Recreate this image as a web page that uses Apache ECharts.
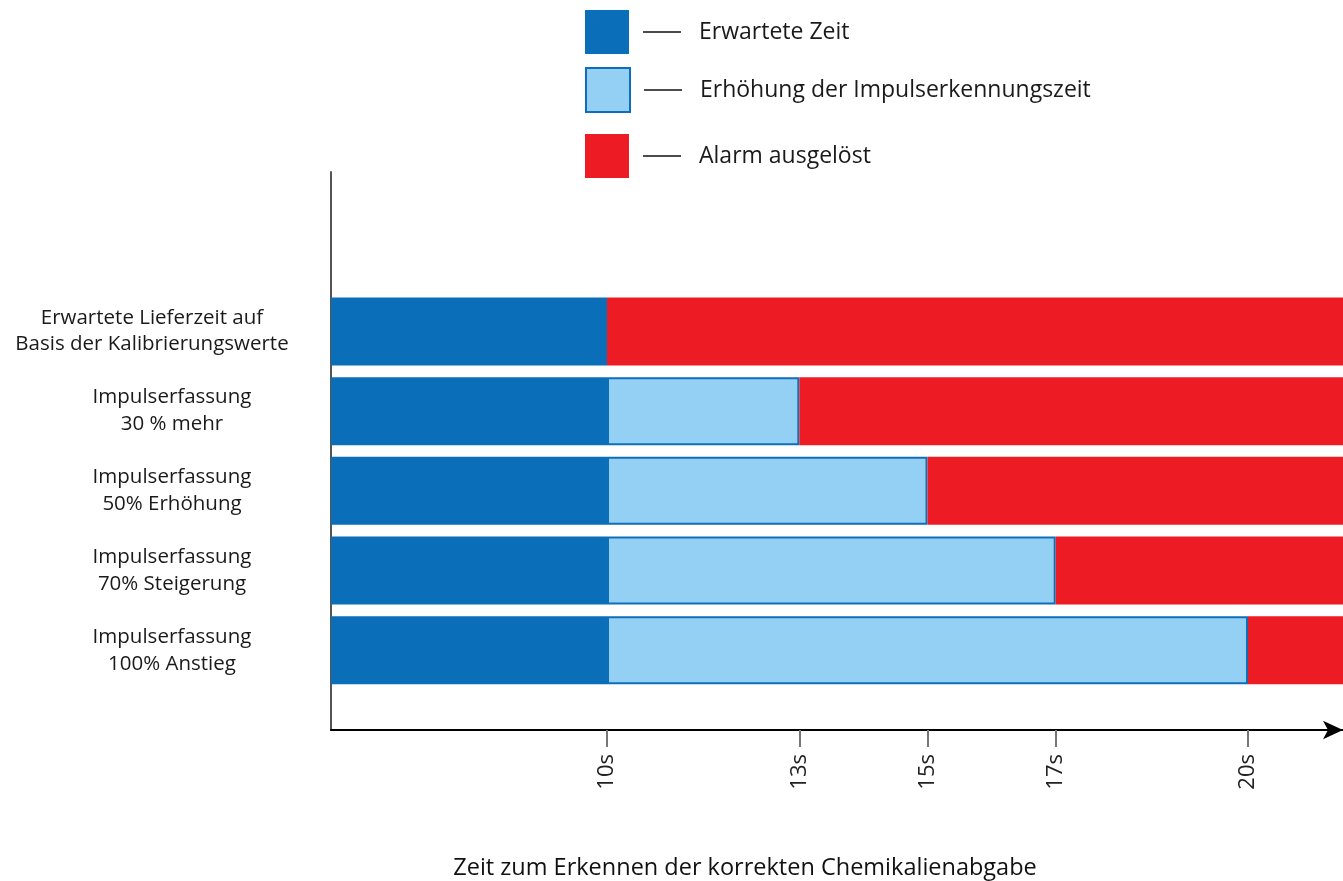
<!DOCTYPE html>
<html>
<head>
<meta charset="utf-8">
<script src="https://cdn.jsdelivr.net/npm/echarts@6/dist/echarts.min.js"></script>
<style>html,body{margin:0;padding:0;background:#fff}#c{width:1343px;height:881px}</style>
</head>
<body>
<div id="c"></div>
<script>
// Categories, top to bottom (empty slots keep the original spacing of the axis)
var categories = ['', '', 'Erwartete Lieferzeit auf\nBasis der Kalibrierungswerte', 'Impulserfassung\n30 % mehr', 'Impulserfassung\n50% Erhöhung', 'Impulserfassung\n70% Steigerung', 'Impulserfassung\n100% Anstieg', ''];
var seriesNames = ['Erwartete Zeit', 'Erhöhung der Impulserkennungszeit', 'Alarm ausgelöst'];
// seconds
var expectedTime = [null, null, 10, 10, 10, 10, 10, null];
var detectionIncrease = [null, null, null, 3, 5, 7, 10, null];
var tickValues = [10, 13, 15, 17, 20];
var xMin = 5.694, xMax = 21.482;

var alarm = categories.map(function (c, i) {
  if (expectedTime[i] == null) return null;
  return xMax - expectedTime[i] - (detectionIncrease[i] || 0);
});

var FONT = '"Open Sans", "Noto Sans", sans-serif';
var chart = echarts.init(document.getElementById('c'));

function legendFor(name, top) {
  return {
    show: true, data: [name], left: 585, top: top, orient: 'vertical', padding: 0,
    itemWidth: 44, itemHeight: 44, selectedMode: false, icon: 'rect',
    formatter: '{s| }{l| }{g| }{t|' + name + '}',
    textStyle: {
      rich: {
        s: { width: 9 },
        l: { width: 38, height: 1.5, backgroundColor: '#111' },
        g: { width: 18 },
        t: { fontSize: 23, fontFamily: FONT, color: '#1a1a1a' }
      }
    }
  };
}

chart.setOption({
  animation: false,
  title: {
    text: 'Zeit zum Erkennen der korrekten Chemikalienabgabe',
    left: 745, top: 856, textAlign: 'center', padding: 0,
    textStyle: { fontSize: 23.5, fontWeight: 'normal', fontFamily: FONT, color: '#111' }
  },
  legend: [legendFor(seriesNames[0], 10), legendFor(seriesNames[1], 67), legendFor(seriesNames[2], 134)],
  grid: { left: 331, right: 0, top: 172, bottom: 151, containLabel: false },
  xAxis: {
    type: 'value', min: xMin, max: xMax,
    axisLine: { show: true, lineStyle: { color: '#000', width: 2 }, symbol: ['none', 'arrow'], symbolSize: [14, 20] },
    axisTick: { show: true, customValues: tickValues, length: 17, lineStyle: { color: '#777', width: 2 } },
    axisLabel: {
      customValues: tickValues, rotate: 90, margin: 24,
      fontSize: 22, color: '#222', fontFamily: FONT,
      formatter: function (v) { return v + 's'; }
    },
    splitLine: { show: false }
  },
  yAxis: {
    type: 'category', data: categories, inverse: true, boundaryGap: false,
    axisLine: { show: true, lineStyle: { color: '#555', width: 2 } },
    axisTick: { show: false },
    axisLabel: {
      interval: 0, align: 'center', margin: 159,
      formatter: function (v, i) {
        if (!v) return '';
        var lines = v.split('\n');
        var key = i === 2 ? 'a' : 'b';
        return lines.map(function (l) { return '{' + key + '|' + l + '}'; }).join('\n');
      },
      rich: {
        a: { fontSize: 20.5, lineHeight: 26, fontFamily: FONT, color: '#1a1a1a', padding: [0, 40, 0, 0], align: 'center' },
        b: { fontSize: 20.5, lineHeight: 27, fontFamily: FONT, color: '#1a1a1a', align: 'center' }
      }
    }
  },
  series: [
    { name: seriesNames[0], type: 'bar', stack: 't', data: expectedTime, barWidth: 68,
      itemStyle: { color: '#0a6eb8' } },
    { name: seriesNames[1], type: 'bar', stack: 't', data: detectionIncrease, barWidth: 68,
      itemStyle: { color: '#93d0f3', borderColor: '#0e6fb8', borderWidth: 2 } },
    { name: seriesNames[2], type: 'bar', stack: 't', data: alarm, barWidth: 68,
      itemStyle: { color: '#ed1c24' } }
  ]
});
</script>
</body>
</html>
